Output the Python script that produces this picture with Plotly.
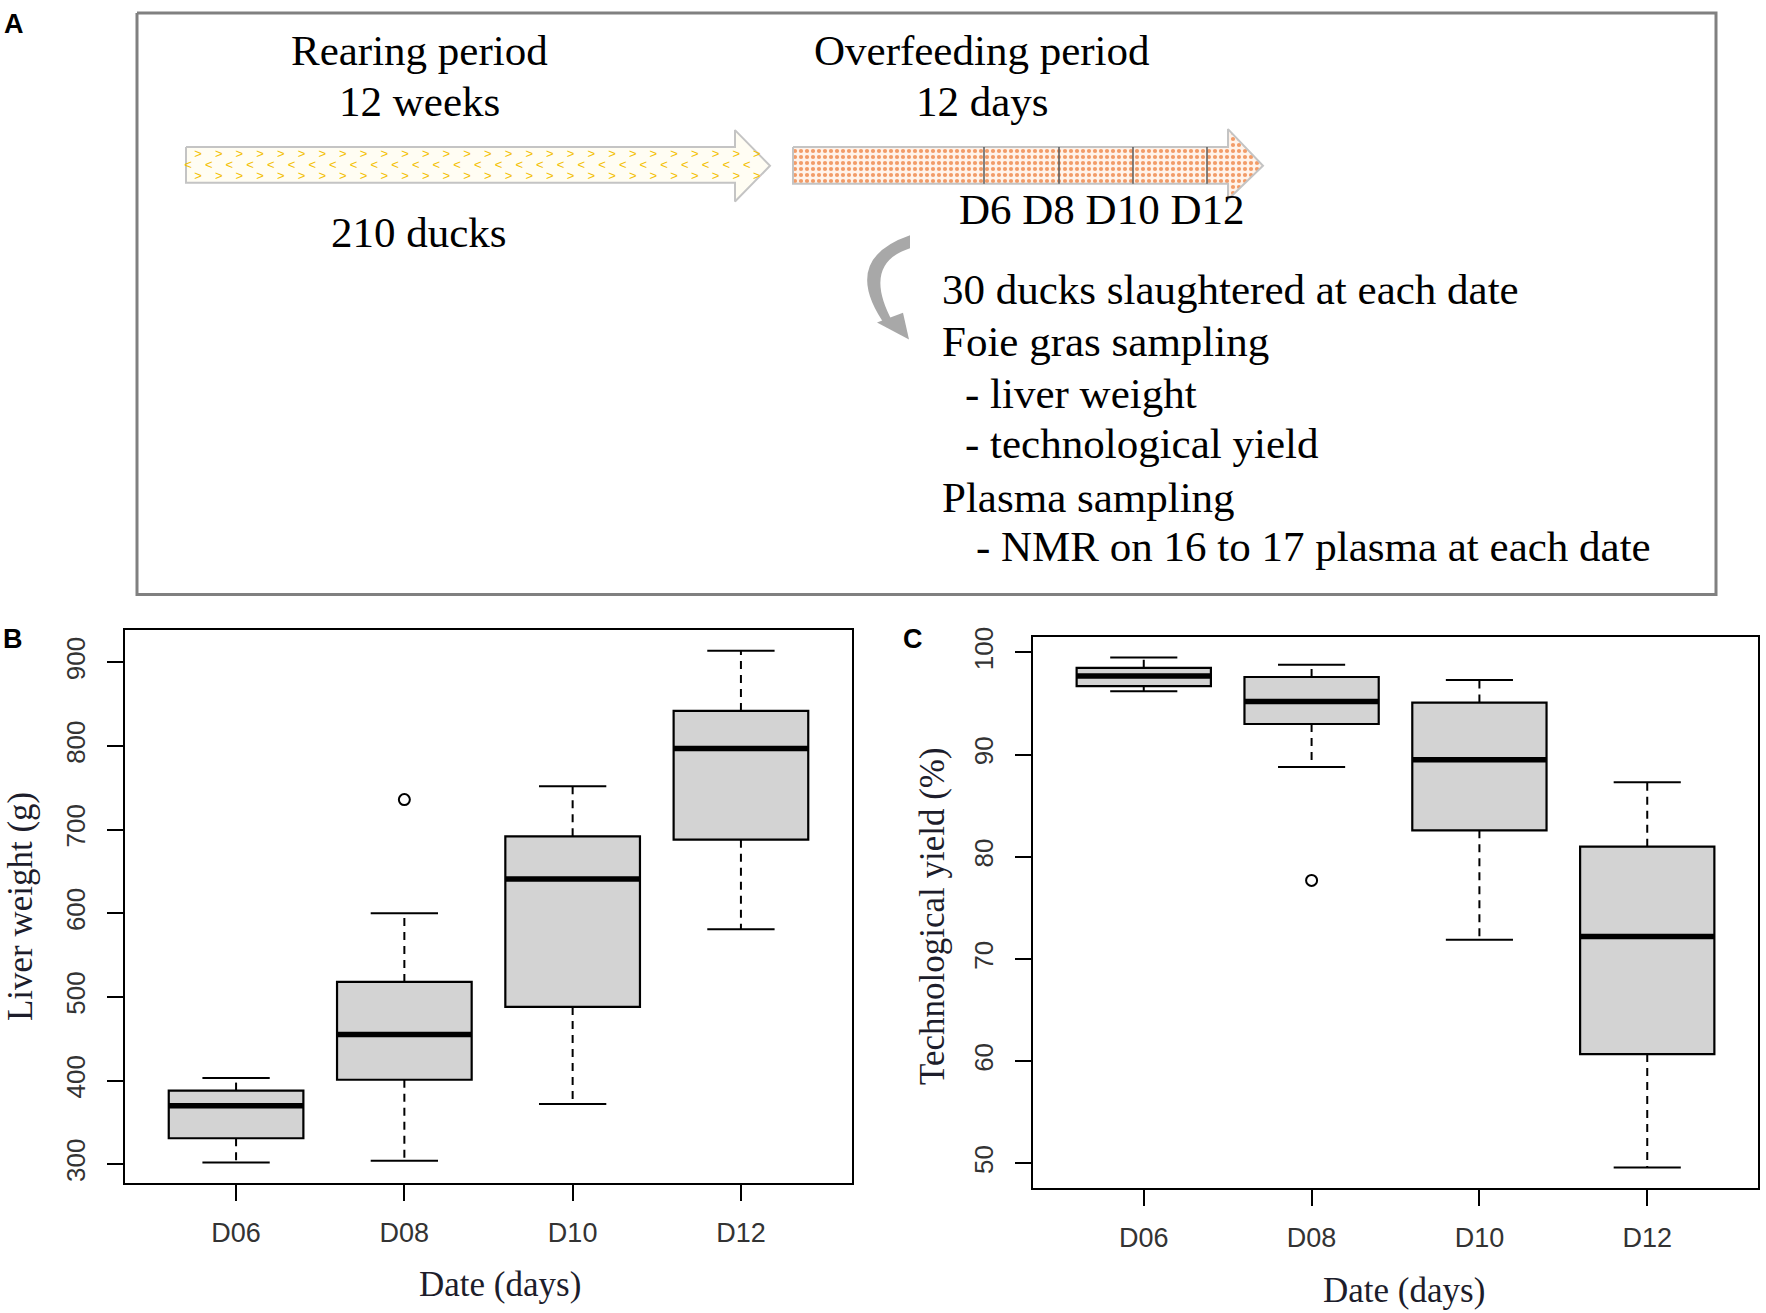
import numpy as np
import plotly.graph_objects as go

# ---- data ----
dates = ["D06", "D08", "D10", "D12"]

liver_lower = [302, 304, 372, 581]
liver_q1 = [331, 401, 488, 688]
liver_median = [370, 455, 641, 797]
liver_q3 = [388, 518, 692, 842]
liver_upper = [403, 600, 752, 914]
liver_outlier_date = ["D08"]
liver_outlier = [736]
liver_ticks = [300, 400, 500, 600, 700, 800, 900]

yield_lower = [96.2, 88.8, 71.9, 49.6]
yield_q1 = [96.7, 93.0, 82.6, 60.7]
yield_median = [97.7, 95.2, 89.5, 72.2]
yield_q3 = [98.5, 97.6, 95.1, 81.0]
yield_upper = [99.5, 98.8, 97.3, 87.3]
yield_outlier_date = ["D08"]
yield_outlier = [77.7]
yield_ticks = [50, 60, 70, 80, 90, 100]

# panel A texts
rearing_lines = ["Rearing period", "12 weeks", "210 ducks"]
overfeeding_lines = ["Overfeeding period", "12 days", "D6 D8 D10 D12"]
sampling_lines = [
    "30 ducks slaughtered at each date",
    "Foie gras sampling",
    "- liver weight",
    "- technological yield",
    "Plasma sampling",
    "- NMR on 16 to 17 plasma at each date",
]

W, H = 1766, 1313
SERIF = "Liberation Serif, Times New Roman, serif"
SANS = "Liberation Sans, Arial, sans-serif"


def add_boxplot(fig, xa, ya, lower, q1, med, q3, upper, out_dates, out_vals):
    pos = list(range(len(dates)))
    fig.add_trace(go.Bar(
        x=pos, y=[b - a for a, b in zip(q1, q3)], base=q1, width=0.8,
        marker={"color": "#D3D3D3", "line": {"color": "black", "width": 2.2}},
        xaxis=xa, yaxis=ya, hoverinfo="skip",
    ))
    wx, wy, cx, cy, mx, my = [], [], [], [], [], []
    for p, lo, a, m, b, hi in zip(pos, lower, q1, med, q3, upper):
        wx += [p, p, None, p, p, None]
        wy += [b, hi, None, a, lo, None]
        cx += [p - 0.2, p + 0.2, None, p - 0.2, p + 0.2, None]
        cy += [hi, hi, None, lo, lo, None]
        mx += [p - 0.4, p + 0.4, None]
        my += [m, m, None]
    fig.add_trace(go.Scatter(x=wx, y=wy, mode="lines", xaxis=xa, yaxis=ya,
                             line={"color": "black", "width": 2, "dash": "8px,6px"}))
    fig.add_trace(go.Scatter(x=cx, y=cy, mode="lines", xaxis=xa, yaxis=ya,
                             line={"color": "black", "width": 2}))
    fig.add_trace(go.Scatter(x=mx, y=my, mode="lines", xaxis=xa, yaxis=ya,
                             line={"color": "black", "width": 5.5}))
    fig.add_trace(go.Scatter(
        x=[dates.index(d) for d in out_dates], y=out_vals, mode="markers",
        xaxis=xa, yaxis=ya,
        marker={"symbol": "circle-open", "size": 11, "color": "black", "line": {"width": 2}},
    ))


def r_range(lower, upper, outliers):
    lo = min(lower + outliers)
    hi = max(upper + outliers)
    pad = 0.04 * (hi - lo)
    return [lo - pad, hi + pad]


fig = go.Figure()
add_boxplot(fig, "x", "y", liver_lower, liver_q1, liver_median, liver_q3, liver_upper,
            liver_outlier_date, liver_outlier)
add_boxplot(fig, "x2", "y2", yield_lower, yield_q1, yield_median, yield_q3, yield_upper,
            yield_outlier_date, yield_outlier)

# ---- panel A diagram (pixel coordinates on a hidden overlay axis) ----
fig.add_trace(go.Scatter(
    x=[137, 1716, 1716, 137, 137], y=[3, 3, 589, 589, 3], mode="lines",
    line={"color": "#808080", "width": 3}, xaxis="x3", yaxis="y3",
    hoverinfo="skip", cliponaxis=False,
))

yel_x = [186, 735, 735, 770, 735, 735, 186, 186]
yel_y = [138, 138, 121, 157, 193, 174, 174, 138]
fig.add_trace(go.Scatter(
    x=yel_x, y=yel_y, mode="lines", fill="toself", fillcolor="#FFFDF3",
    line={"color": "#C4C4C4", "width": 2}, xaxis="x3", yaxis="y3", hoverinfo="skip",
))
chev_x, chev_y, chev_t = [], [], []
for ry, sym, x0 in [(146, ">", 198), (157, "<", 188), (168, ">", 198)]:
    for cxp in np.arange(x0, 760, 20.7):
        inside_head = cxp > 732 and abs(ry - 157) < (770 - cxp) * 1.0
        if cxp <= 728 or inside_head:
            chev_x.append(cxp)
            chev_y.append(ry)
            chev_t.append(sym)
fig.add_trace(go.Scatter(
    x=chev_x, y=chev_y, text=chev_t, mode="text", xaxis="x3", yaxis="y3",
    textfont={"family": SANS, "size": 13, "color": "#F3C000"}, hoverinfo="skip",
))

org_x = [793, 1228, 1228, 1263, 1228, 1228, 793, 793]
org_y = [138, 138, 120, 157, 191, 175, 175, 138]
fig.add_trace(go.Scatter(
    x=org_x, y=org_y, mode="lines", fill="toself", fillcolor="#FFF1E6",
    fillpattern={"shape": ".", "fgcolor": "#F29C68", "bgcolor": "#FFF3EA",
                 "size": 6, "solidity": 0.38, "fillmode": "replace"},
    line={"color": "#C4C4C4", "width": 2}, xaxis="x3", yaxis="y3", hoverinfo="skip",
))

shapes = [
    dict(type="path", xref="x3", yref="y3",
         path="M 910,227 L 910,240 Q 861,256 893,315 L 887,320 Q 838,252 910,227 Z",
         fillcolor="#A8A8A8", line={"width": 0}),
    dict(type="path", xref="x3", yref="y3",
         path="M 877,315 L 903,305 L 909,332 Z",
         fillcolor="#A8A8A8", line={"width": 0}),
]
for dx in [984, 1059, 1133, 1207]:
    shapes.append(dict(type="line", xref="x3", yref="y3", x0=dx, x1=dx, y0=138, y1=175,
                       line={"color": "#5A5A5A", "width": 1.5}))

annotations = []


def txt(text, x, y, size=43, xanchor="center", family=SERIF, color="black", angle=0, bold=False):
    annotations.append(dict(
        text=f"<b>{text}</b>" if bold else text, x=x, y=y, xref="x3", yref="y3",
        xanchor=xanchor, yanchor="middle", showarrow=False, textangle=angle,
        font={"family": family, "size": size, "color": color},
    ))


for line, base in zip(rearing_lines, [62, 113, 245]):
    txt(line, 419, base - 21)
for line, base, cx in zip(overfeeding_lines, [62, 113, 222], [982, 982, 1101]):
    txt(line, cx, base - 21)
for line, base, lx in zip(sampling_lines, [303, 355, 407, 458, 512, 562],
                          [940, 940, 963, 963, 940, 974]):
    txt(line, lx, base - 21, xanchor="left")

# panel letters
txt("A", 14, 14, size=27, family=SANS, bold=True)
txt("B", 13, 634, size=27, family=SANS, bold=True)
txt("C", 913, 634, size=27, family=SANS, bold=True)

# axis titles
TITLE_COLOR = "#1d1d2b"
txt("Liver weight (g)", 20, 904, size=35, color=TITLE_COLOR, angle=-90)
txt("Date (days)", 500, 1284, size=35, color=TITLE_COLOR)
txt("Technological yield (%)", 932, 913, size=35, color=TITLE_COLOR, angle=-90)
txt("Date (days)", 1404, 1290, size=35, color=TITLE_COLOR)

axis_common = dict(
    showline=True, linecolor="black", linewidth=2, mirror=True,
    ticks="outside", ticklen=16, tickwidth=2, tickcolor="black",
    showgrid=False, zeroline=False, fixedrange=True,
    tickfont={"family": SANS, "size": 27, "color": "#333333"},
)
pos = list(range(len(dates)))

fig.update_layout(
    width=W, height=H, margin={"l": 0, "r": 0, "t": 0, "b": 0},
    paper_bgcolor="white", plot_bgcolor="rgba(0,0,0,0)",
    showlegend=False, shapes=shapes, annotations=annotations,
    xaxis=dict(axis_common, domain=[125 / W, 852 / W], range=[-0.66, 3.66],
               tickvals=pos, ticktext=dates, anchor="y", ticklabelstandoff=9),
    yaxis=dict(axis_common, domain=[1 - 1182 / H, 1 - 625 / H],
               range=r_range(liver_lower, liver_upper, liver_outlier),
               tickvals=liver_ticks, tickangle=-90, anchor="x", ticklabelstandoff=12,
               tickfont={"family": SANS, "size": 26, "color": "#333333"}),
    xaxis2=dict(axis_common, domain=[1033 / W, 1758 / W], range=[-0.66, 3.66],
                tickvals=pos, ticktext=dates, anchor="y2", ticklabelstandoff=9),
    yaxis2=dict(axis_common, domain=[1 - 1187 / H, 1 - 632 / H],
                range=r_range(yield_lower, yield_upper, yield_outlier),
                tickvals=yield_ticks, tickangle=-90, anchor="x2", ticklabelstandoff=12,
                tickfont={"family": SANS, "size": 26, "color": "#333333"}),
    xaxis3=dict(domain=[0, 1], range=[0, W], visible=False, anchor="y3", fixedrange=True),
    yaxis3=dict(domain=[0, 1], range=[H, 0], visible=False, anchor="x3", fixedrange=True),
)

# the browser's default 8px body margin would push the figure off the window
fig.write_html("out.html", config={"displayModeBar": False},
               post_script="document.body.style.margin='0';")
